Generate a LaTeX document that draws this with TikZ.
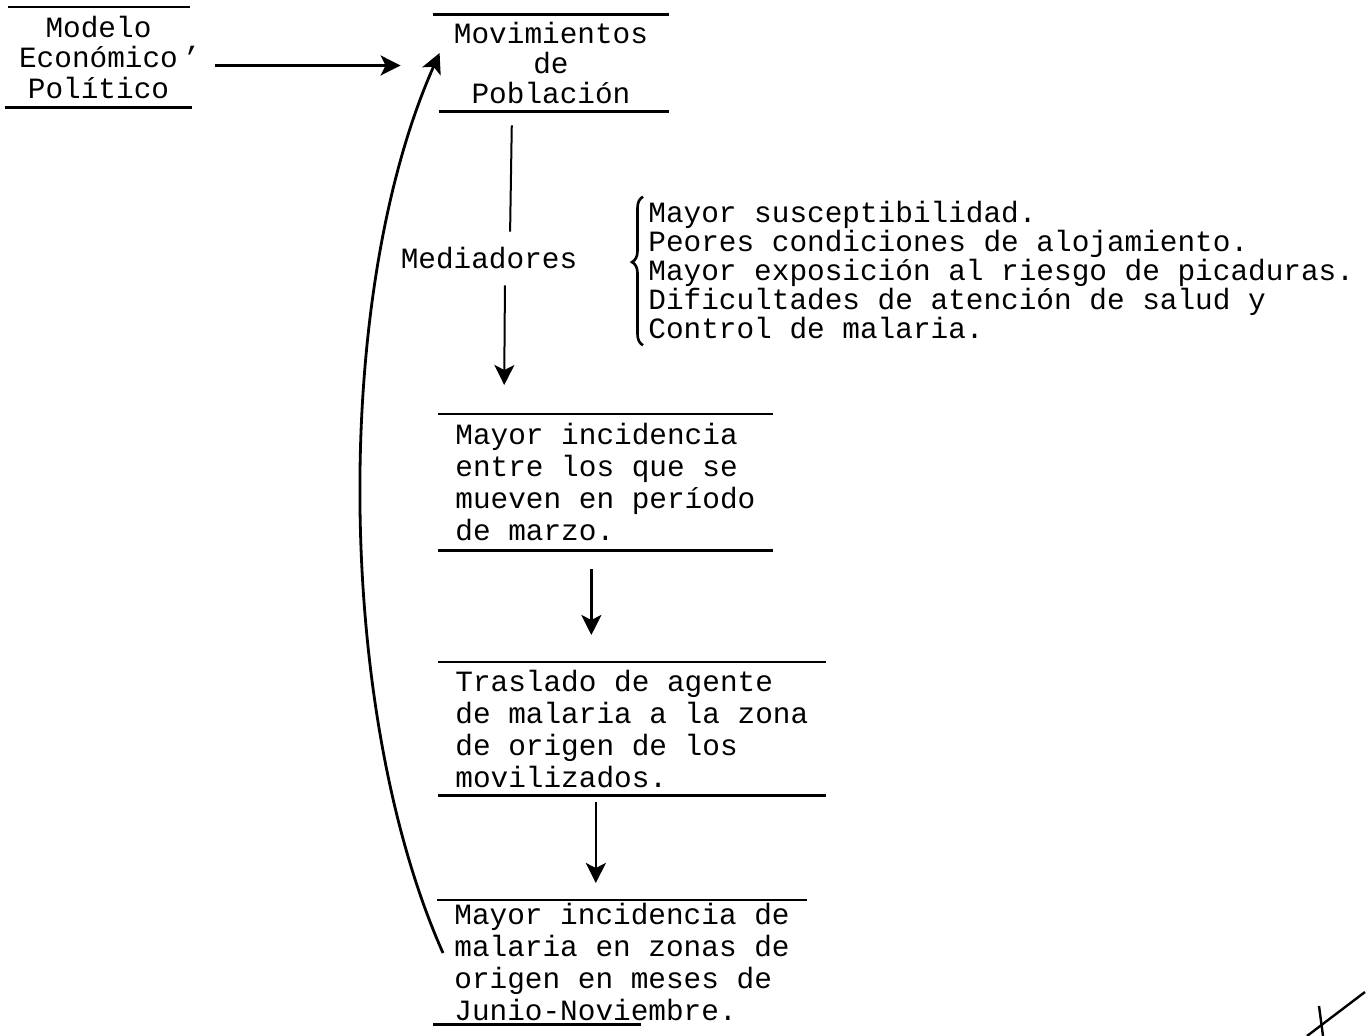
\documentclass[tikz,border=0pt]{standalone}
\usepackage{fontspec}
\setmainfont{Liberation Mono}
\usetikzlibrary{arrows.meta,decorations.pathreplacing}

\tikzset{
  rule/.style={line width=1.4pt},
  link/.style={line width=1.3pt},
  arr/.style={link,-{Stealth[length=10pt,width=10pt,inset=2.5pt]}},
  title/.style={align=center,inner sep=0pt,font=\fontsize{14.7}{15}\selectfont},
  textbox/.style={anchor=north west,align=left,inner xsep=8.5pt,inner ysep=0pt,font=\fontsize{14.7}{16}\selectfont},
}

\begin{document}
\begin{tikzpicture}[x=0.5pt,y=-0.5pt]
    \useasboundingbox (0,0) rectangle (1367,1036);
    % top row
    \node[title,font=\fontsize{14.7}{15.5}\selectfont,minimum width=93.5pt,minimum height=50pt] (modelo) at (98.5,57.5) {Modelo\\Económico\rlap{\,'}\\Político};
    \node[title,minimum width=118pt,minimum height=48pt] (movim) at (551,63) {Movimientos\\de\\Población};
    \draw[rule] ([xshift=1.5pt]modelo.north west) -- ([xshift=-1pt]modelo.north east);
    \draw[rule] (modelo.south west) -- (modelo.south east);
    \draw[rule] (movim.north west) -- (movim.north east);
    \draw[rule] ([xshift=3pt]movim.south west) -- (movim.south east);
    % chain of boxes
    \node[textbox,minimum height=68pt] (incid) at (438,414) {Mayor incidencia\\entre los que se\\mueven en período\\de marzo.};
    \node[textbox,minimum height=66.5pt] (trasl) at (438,662) {Traslado de agente\\de malaria a la zona\\de origen de los\\movilizados.};
    \node[textbox,minimum height=62pt] (mayor) at (437,900) {Mayor incidencia de\\malaria en zonas de\\origen en meses de\\Junio-Noviembre.};
    \foreach \n in {incid,trasl} {
        \draw[rule] (\n.north west) -- (\n.north east);
        \draw[rule] (\n.south west) -- (\n.south east);
    }
    \draw[rule] (mayor.north west) -- (mayor.north east);
    \draw[rule] ([xshift=-2pt]mayor.south west) -- ([xshift=102pt]mayor.south west);
    % mediators
    \node[inner sep=0pt,minimum height=20pt,font=\fontsize{14.7}{15}\selectfont] (mediad) at (489,258) {Mediadores};
    \node[anchor=west,align=left,inner sep=0pt,font=\fontsize{14.7}{14.5}\selectfont] (factores) at (648,270)
        {Mayor susceptibilidad.\\Peores condiciones de alojamiento.\\Mayor exposición al riesgo de picaduras.\\Dificultades de atención de salud y\\Control de malaria.};
    \draw[line width=1.3pt,decorate,decoration={brace,amplitude=5.5pt,aspect=0.56}]
        ([shift={(-2.5pt,-3pt)}]factores.south west) -- ([shift={(-2.5pt,2pt)}]factores.north west);
    % arrows
    \coordinate (a0) at ([yshift=-4pt]modelo.east);
    \draw[arr,shorten <=11.5pt,shorten >=16pt] (a0) -- (a0 -| movim.west);
    \draw[link,line width=1pt,shorten <=7pt,shorten >=3pt] ([xshift=-19.5pt]movim.south) -- ([xshift=10.5pt]mediad.north);
    \draw[arr,line width=1pt,shorten <=3.5pt,shorten >=14.5pt] ([xshift=8pt]mediad.south) -- ([xshift=33pt]incid.north west);
    \coordinate (a1) at ([xshift=-7pt]incid.south);
    \draw[arr,shorten <=9pt,shorten >=13.5pt] (a1) -- (a1 |- trasl.north);
    \coordinate (a2) at ([xshift=-18pt]trasl.south);
    \draw[arr,shorten <=3pt,shorten >=8.5pt] (a2) -- (a2 |- mayor.north);
    \draw[arr,line width=1.4pt] ([shift={(3pt,-26.5pt)}]mayor.north west) to[out=114,in=246,looseness=0.75] ([shift={(3.5pt,5pt)}]movim.west);
    % pen marks
    \draw[line width=1.2pt] (1307,1036) -- (1365,992);
    \draw[line width=1.2pt] (1319,1006) -- (1323,1036);
\end{tikzpicture}
\end{document}
